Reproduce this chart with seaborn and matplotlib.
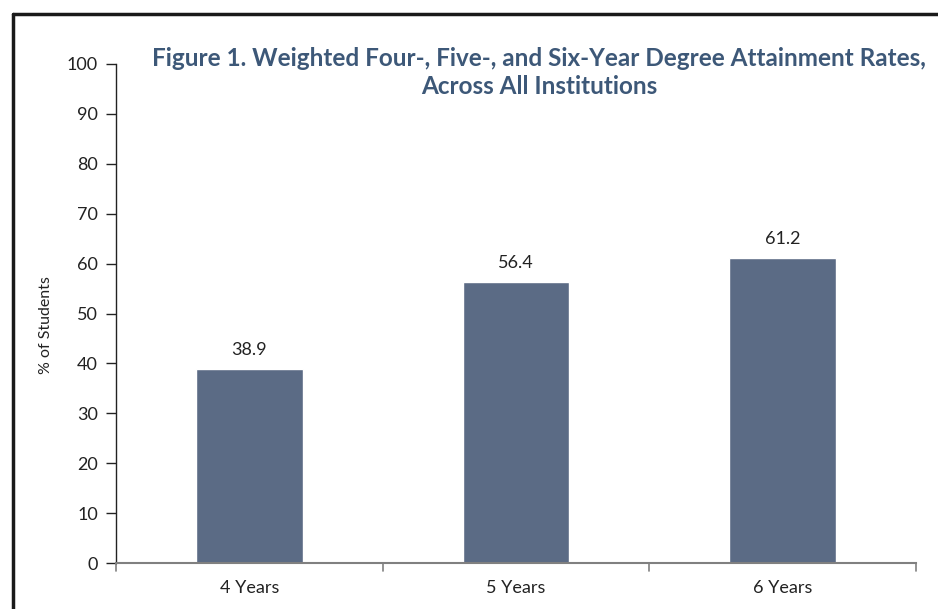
import matplotlib
matplotlib.use("Agg")
import matplotlib.pyplot as plt
import seaborn as sns
import pandas as pd
from matplotlib.lines import Line2D

categories = ["4 Years", "5 Years", "6 Years"]
values = [38.9, 56.4, 61.2]
yticks = [0, 10, 20, 30, 40, 50, 60, 70, 80, 90, 100]

sns.set_theme(style="white")
plt.rcParams['font.family'] = ['Lato', 'DejaVu Sans']

df = pd.DataFrame({"cat": categories, "val": values})

fig = plt.figure(figsize=(9.38, 6.09), dpi=100)
ax = fig.add_axes([116/938, 46/609, 800/938, 499/609])

sns.barplot(data=df, x="cat", y="val", color="#5b6b85", saturation=1, width=0.4, ax=ax)

ax.set_ylim(0, 100)
ax.set_xlim(-0.5, 2.5)
ax.set_yticks(yticks)
ax.set_xlabel("")
ax.set_ylabel("% of Students", fontsize=11.5, color="#222222")
ax.yaxis.set_label_coords(-0.079, 0.477)
ax.tick_params(axis="y", length=7, width=1, color="#222222", labelsize=13, labelcolor="#222222", pad=6, direction="out", left=True)
ax.tick_params(axis="x", length=0, labelsize=13, labelcolor="#222222", pad=12)

for s in ["top", "right"]:
    ax.spines[s].set_visible(False)
ax.spines["left"].set_color("#222222")
ax.spines["left"].set_linewidth(1)
ax.spines["bottom"].set_color("#808080")
ax.spines["bottom"].set_linewidth(1.5)

# category boundary ticks on x axis
for b in [-0.5, 0.5, 1.5, 2.5]:
    ax.plot([b, b], [0, -1.6], color="#808080", lw=1.2, clip_on=False)

for i, v in enumerate(values):
    ax.text(i, v + 2.2, f"{v:.1f}", ha="center", va="bottom", fontsize=13, color="#222222")

fig.text(539/938, 1 - 58/609, "Figure 1. Weighted Four-, Five-, and Six-Year Degree Attainment Rates,",
         ha="center", va="center", fontsize=17.5, fontweight="bold", color="#3d5878")
fig.text(539/938, 1 - 86/609, "Across All Institutions",
         ha="center", va="center", fontsize=17.5, fontweight="bold", color="#3d5878")

# outer frame (top and left)
fig.add_artist(Line2D([12.5/938, 1.0], [1 - 14/609, 1 - 14/609], transform=fig.transFigure, color="#1a1a1a", lw=2.5))
fig.add_artist(Line2D([12.5/938, 12.5/938], [0, 1 - 14/609], transform=fig.transFigure, color="#1a1a1a", lw=2.5))

fig.savefig("out.png", dpi=100)
